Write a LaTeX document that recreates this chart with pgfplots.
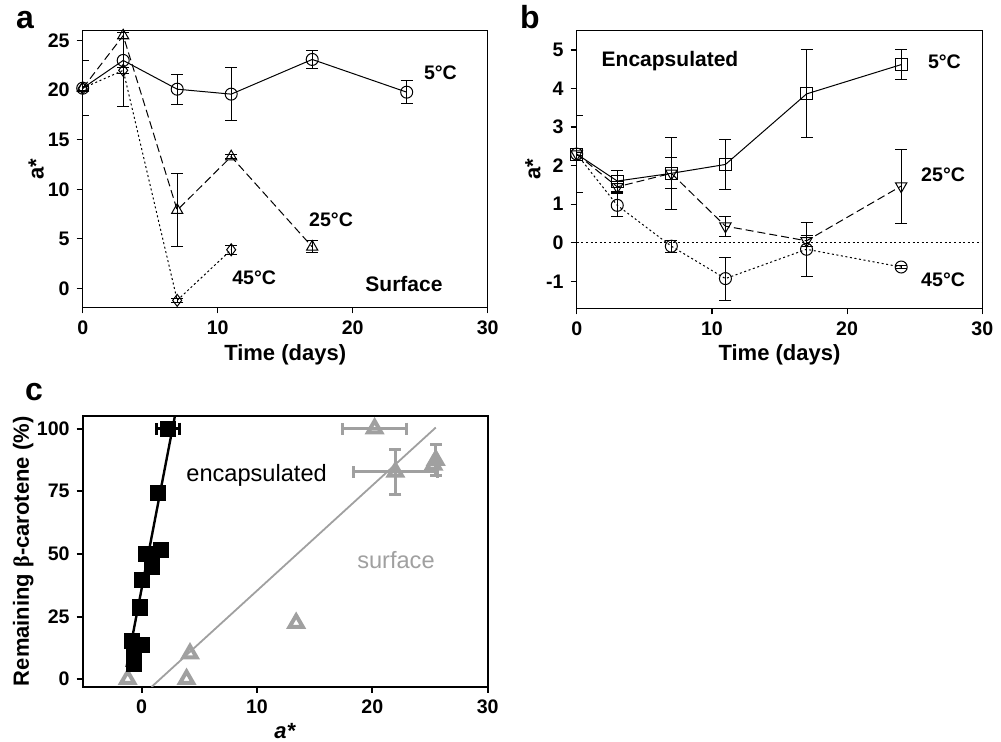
\documentclass[border=0pt]{standalone}
\usepackage{fontspec}
\setmainfont{Liberation Sans}
\newfontfamily\seriffont{Liberation Serif}
\usepackage{pgfplots}
\pgfplotsset{compat=1.18}
\definecolor{sgray}{RGB}{160,160,160}
\pgfplotsset{
 panel/.style={scale only axis, anchor=north west, tick align=outside, tick pos=left,
   major tick length=3pt, axis line style={line width=0.6pt},
   every tick/.style={black,line width=0.6pt},
   /pgf/number format/assume math mode=true,
   tick label style={font=\bfseries\fontsize{9.8}{11}\selectfont},
   label style={font=\bfseries\fontsize{11}{12}\selectfont}},
 ser/.style={black, line width=0.5pt,
   error bars/y dir=both, error bars/y explicit,
   error bars/error bar style={line width=0.5pt, solid},
   error bars/error mark options={rotate=90, mark size=3pt, line width=0.5pt, solid}},
 dashedser/.style={dash pattern=on 4pt off 2pt},
 dottedser/.style={dash pattern=on 1pt off 1.3pt},
}
\begin{document}
\begin{tikzpicture}
\useasboundingbox (0,0) rectangle (500.5pt,-371pt);
% ---------------- panel a
\begin{axis}[panel, at={(41.35pt,-15.35pt)}, width=202.5pt, height=138.3pt,
  xmin=0, xmax=30, ymin=-1.9, ymax=26, xtick={0,10,20,30}, ytick={0,5,10,15,20,25},
  xlabel={Time (days)}, ylabel={a*},
  xlabel style={at={(axis description cs:0.5,-0.172)}, anchor=center},
  ylabel style={at={(axis description cs:-0.115,0.5)}, anchor=center}]
\addplot[ser, mark=o, mark size=3pt, mark options={solid, line width=0.5pt}] coordinates {(0,20.2)+-(0,2.8) (3,23.0)+-(0,4.6) (7,20.1)+-(0,1.5) (11,19.6)+-(0,2.7) (17,23.1)+-(0,0.9) (24,19.8)+-(0,1.15)};
\addplot[ser, dashedser, mark=triangle, mark size=3.2pt, mark options={solid, line width=0.5pt}] coordinates {(0,20.2)+-(0,0.2) (3,25.5)+-(0,0.3) (7,7.9)+-(0,3.7) (11,13.3)+-(0,0.2) (17,4.2)+-(0,0.6)};
\addplot[ser, dottedser, mark=diamond, mark size=3pt, mark options={solid, line width=0.5pt}] coordinates {(0,20.2)+-(0,0.2) (3,22.0)+-(0,0.3) (7,-1.2)+-(0,0.2) (11,3.9)+-(0,0.45)};
\node[font=\bfseries\fontsize{9.8}{11}\selectfont] at (axis cs:26.5,21.8) {5°C};
\node[font=\bfseries\fontsize{9.8}{11}\selectfont] at (axis cs:18.4,6.9) {25°C};
\node[font=\bfseries\fontsize{9.8}{11}\selectfont] at (axis cs:12.7,1.1) {45°C};
\node[font=\bfseries\fontsize{10.5}{11}\selectfont] at (axis cs:23.8,0.45) {Surface};
\end{axis}
% ---------------- panel b
\begin{axis}[panel, at={(288.35pt,-15.35pt)}, width=202.8pt, height=138.8pt,
  xmin=0, xmax=30, ymin=-1.7, ymax=5.5, xtick={0,10,20,30}, ytick={-1,0,1,2,3,4,5},
  xlabel={Time (days)}, ylabel={a*},
  xlabel style={at={(axis description cs:0.5,-0.168)}, anchor=center},
  ylabel style={at={(axis description cs:-0.108,0.5)}, anchor=center}]
\addplot[black, line width=0.5pt, dottedser, no marks] coordinates {(0,0) (30,0)};
\addplot[ser, mark=square, mark size=3pt, mark options={solid, line width=0.5pt}] coordinates {(0,2.3)+-(0,1.0) (3,1.6)+-(0,0.28) (7,1.8)+-(0,0.4) (11,2.03)+-(0,0.65) (17,3.86)+-(0,1.14) (24,4.62)+-(0,0.38)};
\addplot[ser, dashedser, mark=triangle, mark size=3.3pt, mark options={solid, line width=0.5pt, rotate=180}] coordinates {(0,2.3)+-(0,0.05) (3,1.45)+-(0,0.15) (7,1.8)+-(0,0.94) (11,0.43)+-(0,0.26) (17,0.05)+-(0,0.15) (24,1.47)+-(0,0.96)};
\addplot[ser, dottedser, mark=o, mark size=3pt, mark options={solid, line width=0.5pt}] coordinates {(0,2.3)+-(0,0.05) (3,0.97)+-(0,0.3) (7,-0.09)+-(0,0.16) (11,-0.93)+-(0,0.56) (17,-0.17)+-(0,0.7) (24,-0.63)+-(0,0.05)};
\node[font=\bfseries\fontsize{10.5}{11}\selectfont] at (axis cs:6.9,4.7) {Encapsulated};
\node[font=\bfseries\fontsize{9.8}{11}\selectfont] at (axis cs:27.2,4.7) {5°C};
\node[font=\bfseries\fontsize{9.8}{11}\selectfont] at (axis cs:27.1,1.77) {25°C};
\node[font=\bfseries\fontsize{9.8}{11}\selectfont] at (axis cs:27.1,-0.97) {45°C};
\end{axis}
% ---------------- panel c
\begin{axis}[panel, at={(41.35pt,-208pt)}, width=202.5pt, height=135.35pt,
  axis line style={line width=1.1pt}, every tick/.style={black,line width=1pt},
  xmin=-5.1, xmax=30, ymin=-3, ymax=105, xtick={0,10,20,30}, ytick={0,25,50,75,100},
  xlabel={\textit{a*}}, ylabel={Remaining {\seriffont β}-carotene (\%)},
  xlabel style={at={(axis description cs:0.5,-0.165)}, anchor=center},
  ylabel style={at={(axis description cs:-0.147,0.5)}, anchor=center}]
\addplot[sgray, line width=0.9pt, no marks] coordinates {(0.87,-3.07) (25.5,100.4)};
\addplot[black, line width=1.2pt, no marks] coordinates {(-1.3,4.8) (2.9,105.2)};
% surface points
\addplot[sgray, only marks, mark=triangle, mark size=3.8pt, mark options={line width=2pt}] coordinates {(13.4,22.4) (4.2,10.2) (3.9,0) (-1.2,0) (25.3,85.5)};
\addplot[sgray, only marks, mark=triangle, mark size=3.8pt, mark options={line width=2pt},
  error bars/x dir=both, error bars/x explicit, error bars/y dir=both, error bars/y explicit,
  error bars/error bar style={line width=1.5pt, sgray},
  error bars/error mark options={rotate=90, mark size=3pt, line width=1.5pt, sgray}]
  coordinates {(20.2,100)+-(2.8,0) (22.0,82.7)+-(3.65,9) (25.5,87.4)+-(0,6.2)};
% encapsulated points
\addplot[black, only marks, mark=square*, mark size=3.8pt, mark options={rounded corners=1pt}] coordinates {(1.4,74.3) (0.4,50) (1.7,51.5) (0.9,45) (0,39.5) (-0.15,28.6) (-0.85,15.3) (0,13.6) (-0.65,8.9) (-0.65,6)};
\addplot[black, only marks, mark=square*, mark size=3.8pt, mark options={rounded corners=1pt},
  error bars/x dir=both, error bars/x explicit,
  error bars/error bar style={line width=1.5pt},
  error bars/error mark options={rotate=90, mark size=3pt, line width=1.5pt}]
  coordinates {(2.3,100)+-(1.0,0)};
\node[font=\fontsize{11.8}{13}\selectfont] at (axis cs:9.97,81.4) {encapsulated};
\node[font=\fontsize{11.8}{13}\selectfont, text=sgray] at (axis cs:22.05,47.5) {surface};
\end{axis}
% panel letters
\node[font=\bfseries\fontsize{16}{17}\selectfont] at (12.5pt,-10pt) {a};
\node[font=\bfseries\fontsize{16}{17}\selectfont] at (265pt,-8.5pt) {b};
\node[font=\bfseries\fontsize{16}{17}\selectfont] at (17pt,-196pt) {c};
\end{tikzpicture}
\end{document}
